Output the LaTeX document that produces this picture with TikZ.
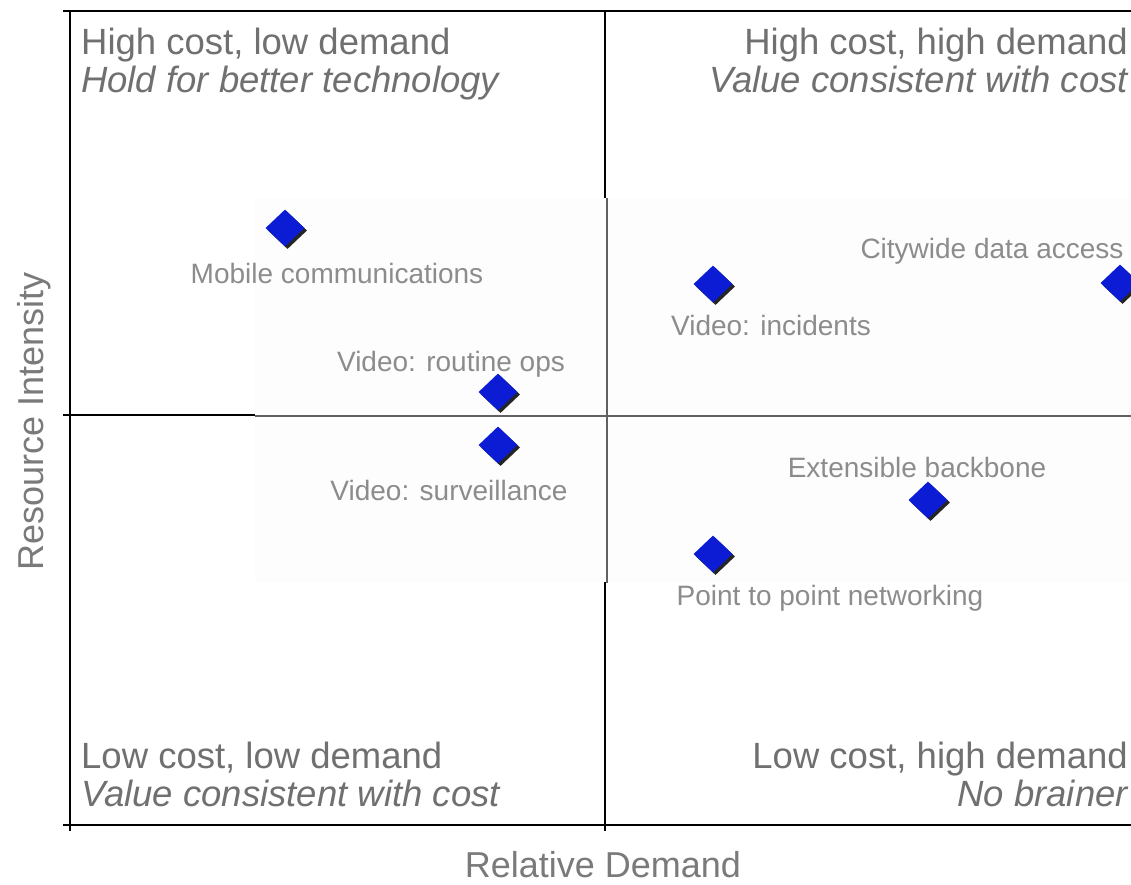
\documentclass[tikz,border=0pt]{standalone}
\usepackage{fontspec}
\setmainfont{Liberation Sans}
\usepackage{tikz}
\usetikzlibrary{positioning, shapes.geometric, shadows}
\definecolor{markblue}{RGB}{12,28,212}
\definecolor{quadgray}{RGB}{112,112,112}
\definecolor{lblgray}{RGB}{140,140,140}
\definecolor{axgray}{RGB}{122,122,122}
\definecolor{panelgray}{RGB}{253,253,253}

\begin{document}
\begin{tikzpicture}[
  x=1pt, y=-1pt,
  axis/.style  ={line width=1.6pt, black},
  inner/.style ={line width=2.6pt, black!62},
  item/.style  ={diamond, aspect=1, fill=markblue, inner sep=0pt,
                 minimum width=39pt, minimum height=37pt,
                 drop shadow={shadow xshift=2.5pt, shadow yshift=-2.5pt,
                              opacity=0.85, fill=black}},
  quad/.style  ={font=\fontsize{36.5}{38}\selectfont, text=quadgray, inner sep=0pt},
  quadit/.style={quad, font=\fontsize{36.5}{38}\selectfont\itshape},
  lbl/.style   ={font=\fontsize{28}{32}\selectfont, text=lblgray, inner sep=0pt},
  axlbl/.style ={font=\fontsize{36}{38}\selectfont, text=axgray, inner sep=0pt}
]
\useasboundingbox (0,0) rectangle (1131,884);
\fill[white] (0,0) rectangle (1131,884);

%--- Axes and quadrant lines ------------------------------------------------
\draw[axis] (63,11)  -- (1131,11);
\draw[axis] (63,825) -- (1131,825);
\draw[axis] (63,415) -- (1131,415);
\draw[axis] (70,11)  -- (70,831);
\draw[axis] (605,11) -- (605,831);

%--- Inner panel --------------------------------------------------------------
\fill[panelgray] (255,198) rectangle (1131,582);
\draw[inner] (607,198) -- (607,583);
\draw[inner] (255,416) -- (1131,416);

%--- Quadrant captions ------------------------------------------------------
\node[quad,   anchor=base west] (hclow)  at (81,54)   {High cost, low demand};
\node[quadit, anchor=base west] (hclowv) at (81,92)   {Hold for better technology};
\node[quad,   anchor=base east] (hchigh) at (1128,54) {High cost, high demand};
\node[quadit, anchor=base east] (hchighv) at (1128,92) {Value consistent with cost};
\node[quad,   anchor=base west] (lclow)  at (81,768)    {Low cost, low demand};
\node[quadit, anchor=base west] (lclowv) at (81,806)    {Value consistent with cost};
\node[quad,   anchor=base east] (lchigh) at (1128,768)  {Low cost, high demand};
\node[quadit, anchor=base east] (lchighv) at (1128,806) {No brainer};

%--- Items ------------------------------------------------------------------
\node[item] (mobile)   at (285,228)  {};
\node[item] (routine)  at (498,392)  {};
\node[item] (surv)     at (498,445)  {};
\node[item] (incid)    at (713,284)  {};
\node[item] (city)     at (1120,283) {};
\node[item] (backbone) at (928,500)  {};
\node[item] (ptp)      at (713,554)  {};

\node[lbl, anchor=base] (mobilel)   at (337,283) {Mobile communications};
\node[lbl, anchor=base] (routinel)  at (451,371) {Video: routine ops};
\node[lbl, anchor=base] (survl)     at (449,500) {Video: surveillance};
\node[lbl, anchor=base] (incidl)    at (771,335) {Video: incidents};
\node[lbl, anchor=base] (cityl)     at (992,258) {Citywide data access};
\node[lbl, anchor=base] (backbonel) at (917,477) {Extensible backbone};
\node[lbl, anchor=base] (ptpl)      at (830,605) {Point to point networking};

%--- Axis titles ------------------------------------------------------------
\node[axlbl, anchor=base] (xtitle) at (603,877) {Relative Demand};
\node[axlbl, anchor=base, rotate=90] (ytitle) at (43,421) {Resource Intensity};
\end{tikzpicture}
\end{document}
